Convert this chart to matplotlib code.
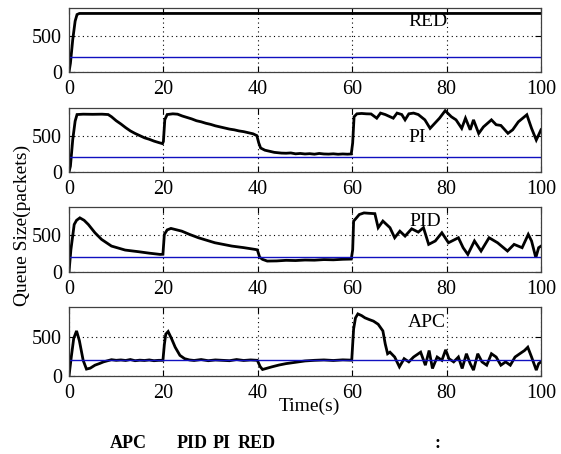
import matplotlib
matplotlib.use("Agg")
import matplotlib.pyplot as plt

plt.rcParams['font.family'] = ['Liberation Serif', 'DejaVu Serif']

# ---------------- data ----------------
target_queue = 200
x_ticks = [0, 20, 40, 60, 80, 100]
y_ticks = [0, 500]

red_t = [0, 0.3, 0.8, 1.3, 1.7, 2.2, 100]
red_q = [0, 120, 450, 700, 790, 805, 805]

pi_t = [0, 0.3, 0.8, 1.3, 1.7, 3, 5, 7, 8.3, 9, 10, 11, 12, 13, 14, 15, 16, 17, 18, 19, 19.8,
        20.0, 20.3, 20.8, 22, 23, 24, 25, 26, 27, 28, 29, 30, 31, 32, 33, 34, 35, 36, 37, 38, 39, 39.8,
        40.2, 40.6, 41.5, 42.5, 43.5, 45, 46, 47, 48, 49, 50, 51, 52, 53, 54, 55, 56, 57, 58, 59, 59.8,
        60.1, 60.4, 61, 62, 63, 64, 65.2, 66, 67, 68.7, 69.5, 70.5, 71.2, 72, 73, 74, 75.4, 76.5, 77.5,
        78.5, 79.7, 81, 82, 83.2, 84, 85, 85.7, 86.8, 87.8, 89.5, 90.5, 91.5, 93, 94, 95.2, 97, 98, 99, 100]
pi_q = [0, 80, 450, 700, 790, 795, 793, 795, 790, 760, 705, 660, 610, 565, 530, 500, 470, 450, 425, 405, 390,
        420, 720, 790, 800, 795, 770, 750, 730, 705, 690, 670, 655, 635, 620, 605, 590, 580, 565, 555, 540, 525, 500,
        400, 330, 300, 285, 270, 260, 258, 262, 250, 255, 248, 252, 245, 255, 248, 246, 250, 244, 248, 245, 248,
        400, 760, 800, 805, 800, 798, 740, 810, 790, 740, 810, 790, 717, 800, 810, 790, 717, 600, 670,
        740, 843, 760, 717, 600, 740, 580, 717, 530, 620, 717, 650, 640, 532, 580, 690, 787, 600, 440, 580]

pid_t = [0, 0.4, 1.1, 1.6, 2.3, 3.2, 4.1, 5.5, 6.9, 9, 11.9, 14.7, 17, 19.3, 19.9,
         20.2, 20.8, 21.6, 23.9, 25.5, 27.4, 30.9, 34.5, 37, 39.4, 39.9,
         40.4, 41, 42, 44, 46, 48, 50, 52, 54, 56, 58, 59.8,
         60.1, 60.3, 61.5, 62.5, 63.5, 64.8, 65.5, 66.5, 68, 69, 70.1, 71.2, 72.6, 74, 75.1, 76.2, 77.6,
         79, 80.4, 82.5, 83.5, 84.5, 85.9, 87.3, 89, 90.8, 92.9, 94.3, 96, 97.3, 98, 98.9, 99.5, 100]
pid_q = [0, 300, 643, 700, 733, 700, 643, 531, 441, 351, 297, 275, 255, 238, 240,
         508, 570, 590, 553, 510, 464, 396, 351, 330, 306, 300,
         200, 171, 148, 150, 158, 155, 162, 160, 168, 165, 172, 175,
         300, 688, 778, 800, 795, 790, 600, 690, 600, 464, 553, 486, 585, 540, 600, 374, 420,
         531, 396, 464, 329, 238, 420, 284, 464, 396, 284, 374, 329, 509, 420, 194, 329, 350]

apc_t = [0, 0.5, 1.0, 1.6, 2.2, 3.0, 3.7, 4.5, 5.5, 6.5, 7.3, 8.2, 9, 10, 11, 12, 13, 14, 15, 16, 17, 18, 19, 19.9,
         20.2, 20.5, 21, 21.7, 22.5, 23.5, 24.5, 25.5, 26.5, 28, 29.5, 31, 32.5, 34, 35.5, 37, 38.5, 39.9,
         40.5, 41, 42, 43, 44.5, 46, 48, 50, 52, 54, 56, 58, 59.9,
         60.3, 60.7, 61.2, 62, 62.7, 63.6, 64.5, 65.5, 66.5, 67, 67.5, 68, 69, 70, 71, 72, 73, 74.5, 75.5,
         76.3, 77, 78, 79, 79.8, 80.5, 81.5, 82.5, 83.3, 84.2, 85, 85.7, 86.6, 87.5, 88.5, 89.5, 90.5,
         91.5, 92.5, 93.5, 94.5, 95.5, 96.5, 97.2, 98, 99, 99.5, 100]
apc_q = [0, 250, 480, 575, 450, 200, 88, 100, 138, 160, 180, 195, 208, 200, 205, 198, 210, 195, 202, 198, 205, 195, 200, 200,
         400, 534, 567, 480, 367, 263, 221, 205, 198, 210, 195, 205, 200, 195, 210, 198, 205, 200,
         120, 83, 100, 117, 140, 158, 175, 192, 200, 205, 198, 206, 202,
         600, 742, 792, 770, 742, 720, 700, 660, 575, 409, 284, 304, 242, 117, 221, 180, 242, 304, 138,
         325, 96, 242, 200, 334, 221, 180, 242, 96, 284, 158, 75, 284, 180, 138, 284, 242,
         138, 180, 138, 242, 284, 325, 367, 242, 75, 158, 180]

panels = [("RED", red_t, red_q), ("PI", pi_t, pi_q), ("PID", pid_t, pid_q), ("APC", apc_t, apc_q)]

# ---------------- layout ----------------
W, H = 561, 454
fig = plt.figure(figsize=(W / 100, H / 100), dpi=100)

boxes = [(8, 72), (108, 172), (207, 272), (307, 376)]
label_pos = [(76, 700), (73.7, 480), (75.5, 680), (75.8, 676)]
x0, x1 = 69, 541

for (name, t, q), (top, bot), (lx, ly) in zip(panels, boxes, label_pos):
    ax = fig.add_axes([x0 / W, 1 - bot / H, (x1 - x0) / W, (bot - top) / H])
    ax.plot(t, q, color='black', lw=2.0, solid_joinstyle='miter')
    ax.axhline(target_queue, color='#1010c0', lw=1.0)
    ax.set_xlim(0, 100)
    ax.set_ylim(0, 880)
    ax.set_xticks(x_ticks)
    ax.set_yticks(y_ticks)
    ax.tick_params(direction='in', top=True, right=True, labelsize=14.5, length=4,
                   width=0.8)
    ax.tick_params(axis='x', pad=6)
    ax.tick_params(axis='y', pad=5)
    ax.grid(True, color='black', linestyle=(0, (1, 3)), lw=0.8)
    for s in ax.spines.values():
        s.set_color('#404040')
        s.set_linewidth(0.9)
    ax.text(lx, ly, name, ha='center', va='center', fontsize=14)

fig.text(22 / W, 1 - 225 / H, 'Queue Size(packets)', rotation=90, ha='center', va='center', fontsize=14)
fig.text(309 / W, 1 - 406 / H, 'Time(s)', ha='center', va='center', fontsize=14)

cap_y = 1 - 443 / H
for txt, xc in [("APC", 128), ("PID", 192), ("PI", 222), ("RED", 257), (":", 437)]:
    fig.text(xc / W, cap_y, txt, ha='center', va='center', fontsize=13, fontweight='bold')

fig.savefig('out.png', dpi=100)
